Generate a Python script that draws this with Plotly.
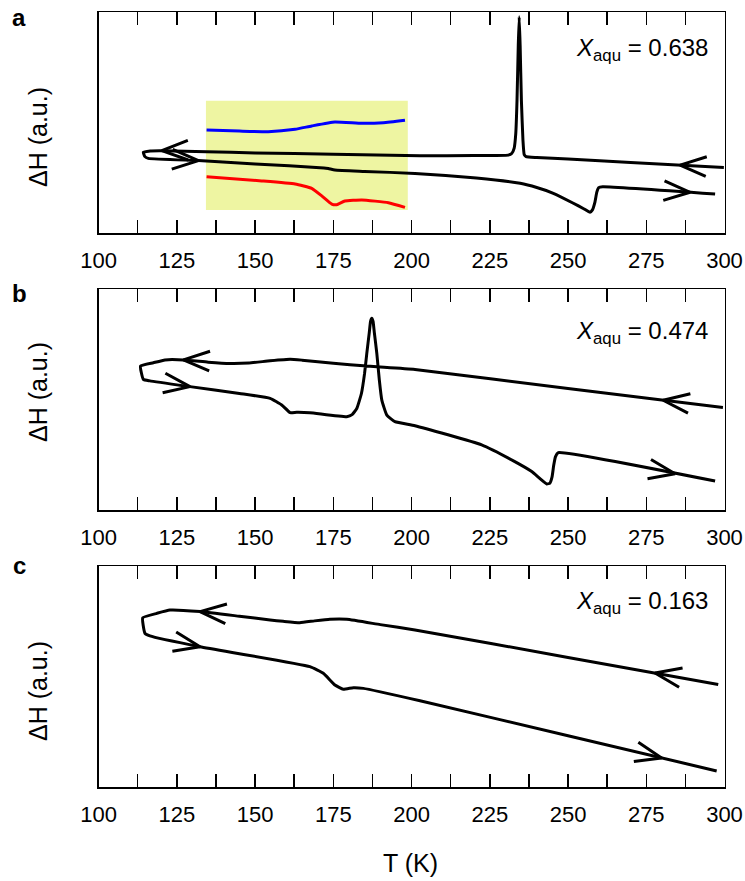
import numpy as np
import plotly.graph_objects as go

# ---------------- data ----------------
tick_vals = [100, 125, 150, 175, 200, 225, 250, 275, 300]
tick_text = ["100", "125", "150", "175", "200", "225", "250", "275", "300"]
panel_letters = ["a", "b", "c"]
x_aqu = ["0.638", "0.474", "0.163"]

# panel a (x_aqu = 0.638)
a_cool_T = [299.8, 270.0, 250.0, 240.0, 236.6, 236.0, 235.6, 235.1, 234.7, 234.4, 234.1, 233.7,
            233.3, 232.8, 232.0, 230.9, 220.0, 202.7, 175.0, 150.0, 134.5, 120.2, 116.5, 114.3]
a_cool_y = [29.7, 32.0, 33.5, 34.2, 34.6, 35.5, 42.0, 60.0, 85.0, 98.0, 85.0, 60.0,
            45.0, 38.5, 36.0, 35.3, 35.1, 35.0, 35.7, 36.3, 36.8, 37.3, 37.2, 36.6]
a_heat_T = [114.8, 115.9, 131.9, 150.0, 172.0, 173.4, 175.5, 185.0, 201.1, 220.7, 234.7, 240.0,
            245.3, 251.7, 255.0, 257.0, 257.8, 258.6, 259.2, 259.8, 261.1, 297.0]
a_heat_y = [34.6, 33.8, 32.8, 31.3, 29.5, 29.2, 28.5, 27.9, 27.0, 24.9, 22.5, 20.6,
            18.0, 13.5, 11.0, 9.4, 10.5, 14.0, 18.5, 20.6, 21.0, 17.7]
a_blue_T = [134.5, 145.0, 154.2, 162.8, 168.1, 175.5, 184.1, 191.0, 197.9]
a_blue_y = [46.7, 46.2, 45.9, 47.0, 48.5, 50.3, 49.7, 50.0, 51.1]
a_red_T = [134.5, 152.1, 162.8, 168.1, 171.3, 174.5, 176.1, 178.7, 184.1, 192.6, 197.9]
a_red_y = [25.5, 23.6, 22.2, 20.2, 16.8, 13.1, 12.8, 14.5, 15.0, 13.7, 11.6]
a_box_T = [134.3, 198.8]
a_box_y = [10.4, 59.9]
a_cool_arrows = [285.8, 120.2]
a_heat_arrows = [131.9, 289.0]

# panel b (x_aqu = 0.474)
b_cool_T = [299.5, 250.0, 201.1, 190.0, 185.7, 175.0, 165.0, 161.2, 154.8, 148.0, 142.0, 135.0,
            127.1, 121.2, 117.5, 113.4]
b_cool_y = [46.4, 55.0, 63.7, 64.8, 65.2, 66.5, 67.9, 68.3, 67.6, 66.6, 66.4, 67.0,
            68.0, 68.0, 66.7, 65.2]
b_heat_T = [114.3, 116.4, 129.2, 145.0, 154.8, 158.5, 161.2, 163.3, 167.5, 179.3, 181.0, 182.5,
            184.0, 185.0, 185.7, 186.5, 186.9, 187.3, 187.7, 188.1, 188.9, 189.7, 190.5, 192.1,
            194.7, 201.1, 222.4, 233.0, 238.4, 243.2, 244.2, 244.9, 245.4, 246.0, 246.9, 297.0]
b_heat_y = [59.2, 58.5, 55.9, 52.8, 50.6, 47.6, 44.1, 44.3, 44.1, 42.3, 43.2, 46.0,
            52.9, 62.0, 71.0, 80.5, 85.5, 86.9, 85.5, 80.5, 71.0, 59.0, 49.8, 43.0,
            40.0, 38.2, 29.5, 21.9, 17.4, 11.8, 12.2, 15.0, 20.0, 24.2, 26.0, 13.1]
b_cool_arrows = [280.4, 127.1]
b_heat_arrows = [129.2, 284.2]

# panel c (x_aqu = 0.163)
c_cool_T = [298.0, 250.0, 201.1, 190.0, 179.3, 173.9, 169.0, 164.3, 159.0, 154.8, 145.0, 132.4,
            122.8, 118.6, 114.1]
c_cool_y = [46.5, 58.7, 71.1, 73.5, 75.9, 75.9, 75.2, 74.4, 75.0, 75.6, 77.3, 79.4,
            80.1, 78.6, 76.6]
c_heat_T = [114.8, 116.4, 132.4, 167.5, 171.8, 175.5, 178.2, 181.4, 184.6, 202.7, 250.0, 297.5]
c_heat_y = [69.6, 68.4, 63.5, 54.5, 51.5, 46.2, 44.3, 45.0, 44.7, 39.1, 23.3, 7.4]
c_cool_arrows = [277.8, 132.4]
c_heat_arrows = [132.4, 279.9]

# ---------------- layout geometry (pixels) ----------------
W, H = 745, 881
X_L, X_R = 98.6, 724.5
panel_tops = [12.3, 289.3, 566.0]
panel_bots = [233.0, 510.0, 787.3]
T_RANGE = [100, 300]
Y_RANGE = [0, 100]
FONT = "Liberation Sans, Arial, Helvetica, sans-serif"
LW = 3.0
SMOOTH = 0.4

fig = go.Figure()

panels = [
    (a_cool_T, a_cool_y, a_heat_T, a_heat_y, a_cool_arrows, a_heat_arrows),
    (b_cool_T, b_cool_y, b_heat_T, b_heat_y, b_cool_arrows, b_heat_arrows),
    (c_cool_T, c_cool_y, c_heat_T, c_heat_y, c_cool_arrows, c_heat_arrows),
]


def chevron(T, y, t_tip, direction, ppx, ppy, L=28.0, half=np.radians(20.5)):
    T = np.asarray(T, float)
    y = np.asarray(y, float)
    order = np.argsort(T)
    Ts, ys = T[order], y[order]
    f = lambda t: np.interp(t, Ts, ys)
    y_tip = f(t_tip)
    vx = direction * 10.0 * ppx
    vy = direction * (f(t_tip + 5) - f(t_tip - 5)) * ppy
    n = np.hypot(vx, vy)
    bx, by = -vx / n, -vy / n
    pts = []
    for s in (1, -1):
        c, si = np.cos(s * half), np.sin(s * half)
        ax = (bx * c - by * si) * L
        ay = (bx * si + by * c) * L
        pts.append((t_tip + ax / ppx, y_tip + ay / ppy))
    return [pts[0][0], t_tip, pts[1][0]], [pts[0][1], y_tip, pts[1][1]]


for i, (cT, cy, hT, hy, carr, harr) in enumerate(panels):
    xa = "x" if i == 0 else f"x{i+1}"
    ya = "y" if i == 0 else f"y{i+1}"
    ppx = (X_R - X_L) / (T_RANGE[1] - T_RANGE[0])
    ppy = (panel_bots[i] - panel_tops[i]) / (Y_RANGE[1] - Y_RANGE[0])
    if i == 0:
        fig.add_shape(type="rect", xref=xa, yref=ya, x0=a_box_T[0], x1=a_box_T[1],
                      y0=a_box_y[0], y1=a_box_y[1], fillcolor="#eef5a2", line_width=0,
                      layer="below")
        fig.add_trace(go.Scatter(x=a_blue_T, y=a_blue_y, mode="lines", xaxis=xa, yaxis=ya,
                                 line=dict(color="#0000ff", width=LW, shape="spline",
                                           smoothing=SMOOTH), showlegend=False))
        fig.add_trace(go.Scatter(x=a_red_T, y=a_red_y, mode="lines", xaxis=xa, yaxis=ya,
                                 line=dict(color="#ff0000", width=LW, shape="spline",
                                           smoothing=SMOOTH), showlegend=False))
    fig.add_trace(go.Scatter(x=list(cT) + list(hT), y=list(cy) + list(hy), mode="lines",
                             xaxis=xa, yaxis=ya,
                             line=dict(color="black", width=LW, shape="spline", smoothing=SMOOTH),
                             showlegend=False))
    ax_x, ax_y = [], []
    for t in carr:
        xs, ys_ = chevron(cT, cy, t, -1, ppx, ppy)
        ax_x += xs + [None]
        ax_y += ys_ + [None]
    for t in harr:
        xs, ys_ = chevron(hT, hy, t, 1, ppx, ppy)
        ax_x += xs + [None]
        ax_y += ys_ + [None]
    fig.add_trace(go.Scatter(x=ax_x, y=ax_y, mode="lines", xaxis=xa, yaxis=ya,
                             line=dict(color="black", width=LW), showlegend=False))

    xdom = [X_L / W, X_R / W]
    ydom = [1 - panel_bots[i] / H, 1 - panel_tops[i] / H]
    xkey = "xaxis" if i == 0 else f"xaxis{i+1}"
    ykey = "yaxis" if i == 0 else f"yaxis{i+1}"
    fig.update_layout(**{
        xkey: dict(domain=xdom, range=T_RANGE, anchor=ya, showline=True, mirror="ticks",
                   linecolor="black", linewidth=1.5, ticks="inside", ticklen=13, tickwidth=1.5,
                   tickcolor="black", tickvals=tick_vals, ticktext=tick_text,
                   ticklabelstandoff=7,
                   minor=dict(dtick=12.5, tick0=100, ticks="inside", ticklen=13, tickwidth=1.5,
                              tickcolor="black", showgrid=False),
                   tickfont=dict(size=22, color="black", family=FONT), showgrid=False,
                   zeroline=False, fixedrange=True, automargin=False),
        ykey: dict(domain=ydom, range=Y_RANGE, anchor=xa, showline=True, mirror=True,
                   linecolor="black", linewidth=1.5, ticks="", showticklabels=False,
                   showgrid=False, zeroline=False, fixedrange=True, automargin=False),
    })

# annotations
letter_py = [17, 294, 565]
ytitle_py = [137, 392, 691]
xaqu_py = [49, 332, 602]
for i in range(3):
    fig.add_annotation(x=19 / W, y=1 - letter_py[i] / H, xref="paper", yref="paper",
                       text=f"<b>{panel_letters[i]}</b>", showarrow=False,
                       font=dict(size=24, family=FONT, color="black"),
                       xanchor="center", yanchor="middle")
    fig.add_annotation(x=38 / W, y=1 - ytitle_py[i] / H, xref="paper", yref="paper",
                       text="ΔH (a.u.)", textangle=-90, showarrow=False,
                       font=dict(size=25, family=FONT, color="black"),
                       xanchor="center", yanchor="middle")
    fig.add_annotation(x=710 / W, y=1 - xaqu_py[i] / H, xref="paper", yref="paper",
                       text=f"<i>X</i><sub>aqu</sub> = {x_aqu[i]}", showarrow=False,
                       font=dict(size=24, family=FONT, color="black"),
                       xanchor="right", yanchor="middle")

fig.add_annotation(x=410.7 / W, y=1 - 863 / H, xref="paper", yref="paper",
                   text="T (K)", showarrow=False,
                   font=dict(size=25, family=FONT, color="black"),
                   xanchor="center", yanchor="middle")

fig.update_layout(width=W, height=H, autosize=False,
                  margin=dict(l=0, r=0, t=0, b=0, pad=0, autoexpand=False),
                  paper_bgcolor="white", plot_bgcolor="white",
                  font=dict(family=FONT, color="black"))

fig.write_html(
    "out.html",
    config={"displayModeBar": False, "staticPlot": True},
    post_script="document.body.style.margin='0';document.body.style.padding='0';"
                "document.body.style.overflow='hidden';"
                "document.documentElement.style.overflow='hidden';",
)
